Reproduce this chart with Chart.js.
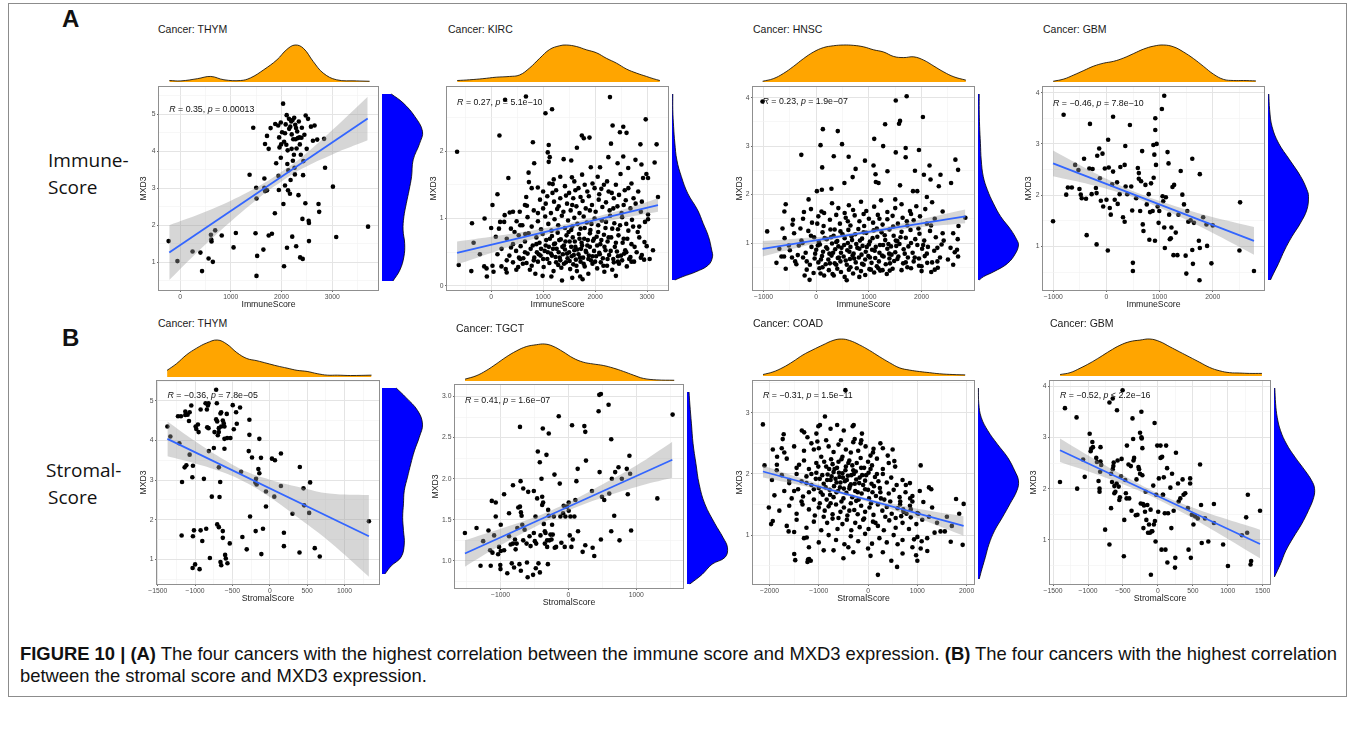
<!DOCTYPE html>
<html>
<head>
<meta charset="utf-8">
<title>MXD3 expression vs immune / stromal score</title>
<script src="https://cdn.jsdelivr.net/npm/chart.js@4/dist/chart.umd.min.js"></script>
<style>
  html, body { margin: 0; background: #fff; }
  #fig { position: relative; width: 1355px; height: 744px; overflow: hidden; font-family: "Liberation Sans", Arial, sans-serif; color: #111; }
  #frame { position: absolute; left: 8px; top: 3px; width: 1339px; height: 694px; border: 1px solid #8c8c8c; box-sizing: border-box; }
  canvas { position: absolute; }
  .lbl { position: absolute; white-space: nowrap; line-height: 1; transform: translateY(-50%); }
  .ttl { font-size: 10.5px; color: #1a1a1a; }
  .big { font-weight: bold; font-size: 24px; }
  .side { font-family: "Open Sans", "Noto Sans", sans-serif; font-size: 19px; }
  .cap { font-size: 16px; color: #111; }
</style>
</head>
<body>
<div id="fig">
  <div id="frame"></div>
  <div class="lbl big" style="left:62px;top:19px">A</div>
  <div class="lbl side" style="left:48px;top:160px">Immune-</div>
  <div class="lbl side" style="left:48px;top:187px">Score</div>
  <div class="lbl big" style="left:62px;top:338px">B</div>
  <div class="lbl side" style="left:46px;top:470px">Stromal-</div>
  <div class="lbl side" style="left:48px;top:497px">Score</div>
  <div id="cap1" class="lbl cap" style="left:20px;top:654px"><b>FIGURE 10 | (A)</b> The four cancers with the highest correlation between the immune score and MXD3 expression. <b>(B)</b> The four cancers with the highest correlation</div>
  <div id="cap2" class="lbl cap" style="left:20px;top:676px">between the stromal score and MXD3 expression.</div>
</div>
<script>
// ---------- THYM / ImmuneScore ----------
const thymImmune = [[-226,1.57],[-52,1.03],[246,1.29],[401,1.26],[433,0.76],[562,1.10],[646,1.01],[608,1.74],[614,1.61],[620,1.56],[692,1.86],[821,1.72],[1054,1.40],[1099,1.79],[1370,3.36],[1442,4.63],[1487,1.78],[1500,3.01],[1506,2.72],[1519,1.17],[1506,0.63],[1642,1.34],[1661,3.01],[1661,3.26],[1674,2.92],[1713,2.94],[1674,4.19],[1713,4.41],[1746,4.06],[1784,4.62],[1746,1.72],[1810,1.77],[1868,2.32],[1875,4.73],[1894,3.67],[1933,4.69],[1939,3.33],[1946,2.95],[1952,4.37],[1959,4.10],[1985,4.77],[1985,3.82],[1991,4.18],[2010,4.51],[2030,5.28],[2036,2.57],[2049,0.89],[2068,4.48],[2068,3.07],[2081,4.72],[2094,4.17],[2101,4.97],[2107,1.39],[2114,3.65],[2127,2.94],[2133,3.48],[2146,4.87],[2165,2.85],[2172,4.66],[2178,3.22],[2191,4.80],[2198,4.06],[2210,1.69],[2217,4.84],[2223,3.74],[2230,4.32],[2243,3.90],[2249,4.90],[2256,3.55],[2262,3.37],[2269,4.71],[2275,4.32],[2288,1.43],[2295,4.07],[2308,4.53],[2321,4.35],[2333,2.81],[2340,4.80],[2353,4.37],[2366,1.13],[2379,3.90],[2392,4.36],[2411,2.17],[2417,1.09],[2424,3.35],[2430,3.73],[2450,4.44],[2469,2.59],[2475,4.96],[2495,4.06],[2521,4.87],[2534,2.12],[2540,2.06],[2540,1.57],[2579,4.66],[2618,4.28],[2650,4.69],[2702,4.31],[2728,2.57],[2741,2.36],[2838,4.33],[2857,3.55],[3012,3.04],[3077,1.68],[3704,1.96],[2150,4.60],[2285,4.62],[2360,4.18],[2200,4.45],[2050,4.25],[2400,4.63],[2120,4.02]];
const thymImmuneFit = [[-213,1.26],[3697,4.88]];
const thymImmuneBandX = [-213,400,1000,1600,2000,2400,3000,3697];
const thymImmuneBandLo = [0.52,1.35,2.10,2.79,3.18,3.52,3.91,4.29];
const thymImmuneBandHi = [2.00,2.31,2.66,3.09,3.44,3.84,4.57,5.47];
const thymImmuneTopX = [-213,13,336,595,853,1176,1370,1629,1888,2081,2243,2405,2598,2792,3051,3439,3697];
const thymImmuneTopD = [0.04,0.03,0.09,0.15,0.06,0.04,0.11,0.33,0.60,0.88,1.00,0.91,0.55,0.24,0.06,0.03,0.02];
const thymImmuneSideY = [5.28,5.06,4.72,4.35,4.05,3.64,3.22,2.89,2.55,2.22,1.89,1.55,1.22,0.89,0.62];
const thymImmuneSideD = [0.23,0.52,0.81,1.00,0.93,0.77,0.73,0.67,0.60,0.54,0.52,0.56,0.54,0.44,0.27];

// ---------- KIRC / ImmuneScore ----------
const kircImmune = [[-656,1.99],[-624,0.31],[-369,0.93],[-382,0.22],[-338,0.64],[-217,0.47],[-127,1.00],[-134,0.29],[-89,0.26],[-83,0.14],[0,0.86],[25,1.20],[25,0.30],[45,0.21],[121,1.36],[121,0.47],[89,0.73],[159,2.23],[172,0.95],[198,0.29],[280,0.25],[268,2.76],[299,0.20],[331,1.60],[357,1.09],[382,0.57],[490,0.96],[484,0.24],[535,0.42],[567,0.59],[618,0.41],[656,0.77],[669,2.81],[675,1.32],[688,1.19],[720,1.68],[726,1.54],[745,0.24],[803,2.13],[828,1.82],[898,1.46],[1045,2.56],[1108,2.09],[1089,1.98],[1108,1.84],[1127,1.91],[1172,2.62],[1185,1.51],[1204,1.58],[1159,0.14],[1363,0.08],[1395,1.88],[1541,1.86],[1554,1.61],[1650,2.05],[1713,0.14],[1745,2.23],[1783,2.19],[1892,2.20],[1917,1.76],[2095,1.76],[2178,0.21],[2255,1.91],[2286,2.80],[2337,2.38],[2306,2.11],[2433,1.82],[2478,2.28],[2542,2.36],[2542,1.92],[2605,2.27],[2637,1.75],[2777,1.87],[2732,0.88],[2872,2.10],[2892,1.80],[2974,2.47],[2923,1.60],[2987,1.66],[3019,1.60],[3019,1.06],[3019,0.99],[2993,0.59],[3114,0.53],[3184,2.10],[3146,1.83],[3210,1.32],[2943,0.39],[2656,0.40],[2560,0.48],[2439,0.36],
  [420,0.35],[610,0.33],[780,0.30],[900,0.36],[1010,0.28],[1120,0.34],[1200,0.22],[1290,0.31],[1350,0.27],[1440,0.35],[1520,0.25],[1580,0.32],[1650,0.22],[1720,0.36],[1800,0.29],[1870,0.18],[1950,0.33],[2040,0.26],[2110,0.35],[2230,0.30],[2330,0.24],[2460,0.33],[2610,0.29],[2750,0.36],[850,0.18],[1560,0.12],[1760,0.10],[990,0.15],[2400,0.15],
  [350,0.45],[480,0.52],[560,0.40],[700,0.48],[760,0.55],[830,0.42],[880,0.50],[950,0.45],[1030,0.52],[1080,0.40],[1150,0.48],[1190,0.55],[1240,0.43],[1300,0.50],[1330,0.38],[1380,0.47],[1420,0.54],[1470,0.41],[1500,0.50],[1550,0.44],[1600,0.53],[1630,0.39],[1680,0.47],[1730,0.55],[1770,0.42],[1830,0.50],[1880,0.45],[1920,0.38],[1980,0.52],[2020,0.44],[2080,0.49],[2150,0.41],[2200,0.53],[2270,0.46],[2350,0.40],[2420,0.51],[2500,0.45],[2580,0.53],[2680,0.43],[2800,0.50],[2900,0.46],[3050,0.40],
  [300,0.70],[420,0.62],[530,0.75],[650,0.66],[720,0.78],[800,0.60],[870,0.72],[930,0.64],[990,0.77],[1060,0.68],[1110,0.58],[1170,0.74],[1230,0.63],[1280,0.79],[1340,0.69],[1400,0.60],[1450,0.75],[1510,0.66],[1570,0.72],[1620,0.58],[1690,0.77],[1740,0.64],[1790,0.70],[1850,0.60],[1900,0.78],[1960,0.67],[2030,0.73],[2100,0.62],[2170,0.76],[2240,0.66],[2310,0.72],[2380,0.58],[2450,0.75],[2530,0.64],[2620,0.70],[2700,0.62],[2850,0.72],
  [250,0.95],[380,0.85],[560,0.90],[700,1.02],[780,0.88],[900,0.96],[960,0.84],[1040,1.03],[1100,0.92],[1160,0.82],[1220,0.99],[1290,0.90],[1360,1.04],[1420,0.86],[1480,0.97],[1540,0.83],[1600,1.01],[1660,0.92],[1720,0.85],[1780,1.03],[1840,0.94],[1910,0.83],[1990,1.00],[2060,0.90],[2130,0.97],[2200,0.86],[2290,1.04],[2370,0.93],[2440,0.84],[2520,1.02],[2600,0.92],[2710,0.98],[2850,0.88],[2960,0.95],
  [420,1.10],[650,1.20],[820,1.12],[940,1.28],[1000,1.15],[1080,1.33],[1150,1.08],[1210,1.25],[1270,1.14],[1330,1.30],[1390,1.10],[1460,1.22],[1530,1.12],[1580,1.30],[1640,1.18],[1700,1.08],[1760,1.26],[1820,1.15],[1880,1.33],[1940,1.20],[2010,1.10],[2070,1.28],[2140,1.17],[2210,1.24],[2280,1.12],[2360,1.30],[2430,1.18],[2510,1.08],[2590,1.27],[2680,1.15],[2780,1.22],[2880,1.10],
  [780,1.45],[1000,1.40],[1120,1.52],[1250,1.42],[1330,1.62],[1420,1.48],[1500,1.38],[1600,1.55],[1680,1.45],[1750,1.65],[1850,1.40],[1950,1.52],[2050,1.62],[2120,1.44],[2230,1.55],[2320,1.38],[2400,1.50],[2490,1.66],[2570,1.42],[2700,1.52],[2830,1.40],
  [820,0.38],[870,0.62],[915,0.47],[960,0.55],[1000,0.40],[1050,0.60],[1090,0.50],[1130,0.70],[1170,0.45],[1210,0.62],[1250,0.35],[1260,0.55],[1310,0.68],[1320,0.42],[1370,0.58],[1400,0.33],[1430,0.66],[1460,0.48],[1490,0.80],[1510,0.37],[1540,0.58],[1560,0.88],[1590,0.46],[1610,0.66],[1640,0.30],[1660,0.54],[1700,0.70],[1710,0.42],[1750,0.60],[1780,0.33],[1800,0.86],[1820,0.52],[1860,0.68],[1870,0.40],[1900,0.58],[1930,0.92],[1950,0.44],[1980,0.70],[2000,0.36],[2040,0.60],[2060,0.80],[2090,0.47],[2120,0.68],[2160,0.30],[2180,0.58],[2210,0.95],[2240,0.40],[2260,0.72],[2300,0.52],[2330,0.85],[2360,0.35],[2400,0.64],[2440,0.44],[2480,0.90],[2520,0.38],[2550,0.70],[2600,0.50],[2640,0.82],[2700,0.36],[2760,0.58],[2820,0.80],[2880,0.42],[2950,0.65],
  [900,1.08],[1050,1.22],[1180,1.38],[1300,1.18],[1440,1.34],[1560,1.20],[1620,1.42],[1720,1.32],[1800,1.50],[1900,1.12],[1990,1.45],[2080,1.36],[2170,1.50],[2260,1.40],[2350,1.15],[2460,1.35],[2550,1.20],[2640,1.45],[2740,1.30],[2900,1.25],
  [200,0.55],[300,0.38],[450,0.80],[520,0.28],[600,0.90],[680,0.34],[150,0.85],[260,1.05],[550,1.10],[650,0.50]];
const kircImmuneFit = [[-656,0.49],[3210,1.20]];
const kircImmuneBandX = [-656,0,700,1400,2100,2700,3210];
const kircImmuneBandLo = [0.32,0.49,0.67,0.83,0.94,1.03,1.10];
const kircImmuneBandHi = [0.66,0.73,0.81,0.91,1.04,1.17,1.30];
const kircImmuneTopX = [-656,-420,-166,89,344,535,726,917,1108,1299,1427,1618,1809,2000,2191,2382,2573,2764,2955,3083,3210];
const kircImmuneTopD = [0.04,0.06,0.09,0.13,0.15,0.19,0.38,0.64,0.88,0.98,1.00,0.96,0.87,0.79,0.64,0.51,0.35,0.24,0.15,0.09,0.04];
const kircImmuneSideY = [2.81,2.58,2.33,2.09,1.84,1.60,1.35,1.11,0.91,0.72,0.52,0.42,0.30,0.20,0.13,0.08];
const kircImmuneSideD = [0.02,0.02,0.04,0.07,0.12,0.23,0.39,0.63,0.77,0.90,0.98,1.00,0.90,0.59,0.27,0.07];

// ---------- HNSC / ImmuneScore ----------
const hnscImmune = [[-931,1.24],[-755,0.59],[-660,0.72],[-610,0.72],[-579,1.80],[-604,1.65],[-579,0.47],[-440,1.48],[-283,2.82],[-233,1.64],[-145,1.90],[-126,0.24],[13,2.07],[82,3.02],[126,3.35],[113,2.56],[107,2.10],[82,0.37],[333,2.79],[289,2.12],[409,3.31],[490,3.04],[535,2.24],[616,2.78],[692,2.36],[748,2.53],[579,0.23],[925,2.70],[1038,0.45],[1088,2.60],[1101,3.15],[1126,2.42],[1132,2.26],[1183,2.24],[1271,3.00],[1308,3.45],[1214,0.43],[1352,2.48],[1396,0.43],[1510,2.87],[1510,3.94],[1591,2.19],[1591,3.52],[1572,3.46],[1698,2.96],[1717,4.03],[1698,2.77],[1837,2.07],[1874,2.49],[1918,2.07],[1950,2.92],[2025,3.60],[2044,2.41],[2151,2.60],[2170,2.31],[2183,0.40],[2327,2.17],[2359,2.41],[2560,2.24],[2642,2.72],[2693,2.51],[2686,1.08],[2673,0.86],[2629,0.81],[2693,0.72],[2831,1.52],[2308,0.49],[2107,0.59],[1950,0.53],[1730,0.50],[1541,0.67],[1384,0.78],[1510,1.05],[818,0.30],[333,0.33],[-220,0.33],[-377,0.56],[-1019,3.92],
  [-180,0.45],[-50,0.38],[60,0.48],[150,0.33],[240,0.44],[310,0.36],[400,0.47],[470,0.40],[540,0.30],[620,0.45],[700,0.37],[770,0.48],[850,0.42],[930,0.34],[1010,0.46],[1100,0.39],[1180,0.48],[1260,0.44],[1340,0.36],[1450,0.47],[1620,0.44],[1800,0.48],[2000,0.42],[2250,0.45],
  [-400,0.62],[-250,0.70],[-120,0.55],[-30,0.68],[40,0.60],[110,0.73],[180,0.56],[230,0.66],[290,0.74],[350,0.58],[410,0.69],[460,0.62],[520,0.72],[580,0.55],[640,0.67],[690,0.74],[750,0.60],[810,0.70],[870,0.57],[930,0.66],[990,0.73],[1050,0.59],[1120,0.69],[1190,0.62],[1250,0.74],[1320,0.56],[1390,0.68],[1480,0.63],[1560,0.72],[1650,0.58],[1740,0.70],[1850,0.62],[1950,0.68],[2060,0.73],[2200,0.60],[2350,0.70],[2500,0.66],
  [-500,0.85],[-330,0.95],[-200,0.80],[-90,0.92],[0,0.86],[70,0.97],[130,0.82],[190,0.91],[250,0.78],[300,0.99],[360,0.87],[420,0.93],[470,0.80],[530,0.96],[590,0.85],[650,0.92],[710,0.78],[760,0.98],[820,0.88],[880,0.94],[940,0.82],[1000,0.97],[1060,0.86],[1130,0.92],[1200,0.80],[1270,0.96],[1350,0.88],[1420,0.93],[1500,0.81],[1580,0.98],[1660,0.87],[1750,0.93],[1830,0.80],[1920,0.96],[2010,0.88],[2120,0.92],[2240,0.84],[2380,0.97],[2550,0.90],
  [-600,1.10],[-420,1.20],[-280,1.05],[-150,1.25],[-40,1.12],[50,1.02],[120,1.22],[200,1.08],[270,1.28],[330,1.15],[400,1.04],[460,1.24],[540,1.10],[610,1.27],[680,1.06],[740,1.18],[800,1.29],[870,1.09],[950,1.21],[1020,1.03],[1090,1.26],[1160,1.13],[1240,1.22],[1310,1.06],[1390,1.28],[1470,1.15],[1540,1.04],[1620,1.23],[1700,1.11],[1790,1.27],[1880,1.08],[1960,1.19],[2050,1.05],[2160,1.25],[2270,1.12],[2400,1.20],
  [-450,1.38],[-250,1.50],[-80,1.42],[40,1.55],[140,1.35],[260,1.48],[380,1.58],[450,1.40],[560,1.52],[650,1.36],[730,1.57],[820,1.45],[910,1.35],[1000,1.50],[1080,1.42],[1170,1.58],[1260,1.38],[1350,1.49],[1450,1.56],[1550,1.40],[1640,1.52],[1730,1.36],[1850,1.47],[1970,1.55],[2100,1.40],[2250,1.50],
  [-100,1.70],[100,1.65],[300,1.82],[420,1.72],[540,1.62],[620,1.78],[700,1.68],[850,1.85],[950,1.66],[1100,1.75],[1230,1.88],[1350,1.64],[1500,1.72],[1620,1.80],[1780,1.66],[1900,1.76],[2070,1.70],[2200,1.84],
  [-350,0.75],[-260,1.00],[-180,0.62],[-100,1.15],[-20,0.78],[30,0.95],[90,0.66],[160,1.10],[210,0.88],[260,0.58],[280,1.12],[320,0.80],[380,1.02],[430,0.70],[480,0.90],[500,1.18],[560,0.64],[600,1.00],[630,0.82],[670,1.14],[720,0.68],[780,0.90],[830,1.05],[860,0.76],[900,1.22],[960,0.92],[1020,0.70],[1070,1.10],[1110,0.84],[1150,1.30],[1210,0.96],[1280,0.72],[1300,1.16],[1370,0.98],[1430,0.76],[1460,1.34],[1520,0.94],[1600,1.12],[1680,0.78],[1720,1.45],[1800,1.00],[1870,0.70],[1940,1.30],[2030,0.96],[2100,0.78],[2180,1.36],[2300,0.90],[2420,1.05],[2600,1.20],[2700,1.35],
  [-520,0.95],[-640,1.30],[-700,0.88],[-460,0.70],[-300,1.30],[20,1.40],[150,1.62],[350,1.28],[600,1.45],[900,1.60],[1200,1.50],[1500,1.90],[1800,1.60],[2100,1.95],[2400,1.65],
  [120,0.50],[380,0.55],[650,0.50],[900,0.55],[1150,0.52],[1400,0.58],[1700,0.60],[2000,0.52],[2300,0.62],[2600,0.55]];
const hnscImmuneFit = [[-1019,0.88],[2831,1.55]];
const hnscImmuneBandX = [-1019,-400,200,800,1400,2000,2831];
const hnscImmuneBandLo = [0.72,0.89,1.04,1.16,1.25,1.33,1.41];
const hnscImmuneBandHi = [1.04,1.09,1.14,1.24,1.35,1.49,1.69];
const hnscImmuneTopX = [-1019,-818,-629,-440,-252,-63,126,315,503,692,881,1069,1258,1447,1635,1824,2013,2202,2390,2579,2805];
const hnscImmuneTopD = [0.02,0.09,0.23,0.42,0.63,0.81,0.93,0.98,1.00,0.99,0.95,0.87,0.81,0.69,0.66,0.68,0.59,0.43,0.27,0.14,0.05];
const hnscImmuneSideY = [4.03,3.71,3.37,3.02,2.68,2.34,2.07,1.79,1.52,1.25,1.04,0.94,0.77,0.56,0.39,0.29,0.22];
const hnscImmuneSideD = [0.03,0.03,0.04,0.06,0.08,0.13,0.23,0.38,0.56,0.81,0.96,1.00,0.93,0.73,0.39,0.14,0.03];

// ---------- GBM / ImmuneScore ----------
const gbmImmune = [[-1006,1.49],[-807,3.57],[-758,2.01],[-727,2.15],[-652,2.15],[-590,2.59],[-528,2.49],[-509,2.12],[-484,2.01],[-466,1.94],[-422,2.71],[-385,1.93],[-373,1.22],[-323,2.52],[-311,3.39],[-279,2.02],[-261,2.51],[-199,2.14],[-186,2.04],[-186,1.04],[-174,2.77],[-137,2.91],[-124,2.33],[-106,1.89],[-75,2.81],[-62,1.78],[-31,2.52],[0,1.91],[31,3.08],[25,0.92],[43,2.54],[62,1.75],[81,1.62],[106,2.21],[124,3.53],[124,2.46],[155,1.91],[199,2.25],[211,1.83],[248,2.02],[261,2.55],[311,1.57],[342,2.59],[354,2.96],[342,1.48],[360,2.17],[391,2.02],[441,3.37],[466,2.17],[484,1.70],[497,0.68],[497,0.52],[559,1.94],[590,2.53],[609,2.43],[609,2.32],[634,1.69],[652,2.27],[671,2.86],[683,1.43],[696,1.30],[733,2.20],[758,1.82],[795,2.02],[807,1.13],[820,1.67],[839,2.23],[869,1.69],[882,2.98],[888,2.34],[901,2.79],[913,1.11],[919,3.27],[919,3.50],[944,3.00],[932,2.59],[963,1.78],[981,1.46],[994,1.69],[1043,3.68],[1056,1.98],[1068,1.88],[1087,1.37],[1099,0.97],[1118,1.96],[1149,2.84],[1168,2.62],[1180,1.62],[1192,1.14],[1211,1.16],[1223,1.37],[1242,2.16],[1261,0.83],[1273,2.20],[1304,1.27],[1335,0.83],[1354,1.62],[1397,2.47],[1428,2.01],[1459,1.82],[1490,0.82],[1503,0.47],[1521,1.69],[1540,1.48],[1584,1.51],[1615,0.93],[1627,0.66],[1646,1.46],[1739,1.11],[1751,0.34],[1757,2.41],[1757,0.97],[1820,1.57],[1882,1.43],[1894,1.01],[1975,0.67],[2000,1.41],[1615,2.71],[2515,1.86],[2503,0.92],[2776,0.52],[1087,3.94]];
const gbmImmuneFit = [[-1006,2.62],[2776,1.11]];
const gbmImmuneBandX = [-1006,-400,200,700,1200,1800,2776];
const gbmImmuneBandLo = [2.37,2.23,2.06,1.88,1.66,1.37,0.84];
const gbmImmuneBandHi = [2.87,2.53,2.22,2.00,1.82,1.63,1.38];
const gbmImmuneTopX = [-1006,-807,-621,-435,-248,-62,124,311,497,683,869,1056,1242,1428,1615,1801,1987,2174,2360,2546,2776];
const gbmImmuneTopD = [0.02,0.08,0.19,0.31,0.43,0.51,0.56,0.65,0.77,0.89,0.97,1.00,0.95,0.81,0.63,0.42,0.21,0.07,0.04,0.04,0.03];
const gbmImmuneSideY = [3.94,3.64,3.31,2.99,2.67,2.34,2.09,1.96,1.70,1.44,1.18,0.92,0.66,0.47,0.34];
const gbmImmuneSideD = [0.02,0.04,0.10,0.26,0.53,0.81,0.96,1.00,0.96,0.80,0.59,0.41,0.26,0.14,0.06];

// ---------- THYM / StromalScore ----------
const thymStromal = [[-1371,4.35],[-1331,4.10],[-1211,3.93],[-1175,2.95],[-1229,4.61],[-1189,4.61],[-1131,4.73],[-1131,4.64],[-1140,3.32],[-1117,3.37],[-1100,4.65],[-1082,4.49],[-1073,4.71],[-1051,4.88],[-1073,3.64],[-1029,3.36],[-1037,3.07],[-993,4.35],[-984,4.29],[-962,4.40],[-953,4.21],[-926,4.78],[-882,3.03],[-860,4.94],[-842,4.78],[-838,4.33],[-820,4.31],[-816,3.73],[-829,4.88],[-820,4.94],[-776,2.58],[-749,3.81],[-740,4.21],[-718,5.28],[-709,4.94],[-718,4.53],[-704,4.48],[-696,4.13],[-682,4.21],[-682,4.31],[-682,3.32],[-673,2.57],[-664,2.95],[-660,4.68],[-651,4.71],[-651,4.35],[-629,4.50],[-616,4.43],[-607,4.35],[-607,4.04],[-607,3.79],[-576,4.67],[-571,4.06],[-527,4.06],[-496,4.89],[-482,4.28],[-451,4.71],[-442,4.42],[-398,4.83],[-384,3.21],[-282,3.73],[-273,4.52],[-273,4.14],[-238,3.57],[-193,2.94],[-184,3.03],[-176,2.89],[-153,3.28],[-140,3.17],[-140,4.04],[-118,3.56],[-51,2.71],[-51,2.33],[29,3.54],[69,3.50],[149,3.67],[60,2.58],[149,2.85],[304,2.15],[402,3.33],[451,2.79],[460,2.36],[527,2.17],[540,2.94],[1327,1.96],[-264,2.08],
  [-1180,1.60],[-1029,1.58],[-1015,1.73],[-926,1.73],[-904,1.46],[-851,1.77],[-802,1.03],[-704,1.88],[-682,1.81],[-629,1.71],[-629,1.54],[-536,1.40],[-598,1.11],[-589,1.02],[-567,0.90],[-367,1.56],[-309,1.25],[-189,1.71],[-91,1.77],[-113,1.13],[189,1.67],[189,1.33],[398,1.17],[602,1.28],[669,1.07],[-1033,0.78],[-940,0.75],[-1000,0.87],[-650,0.85],[-660,0.93]];
const thymStromalFit = [[-1371,4.04],[1327,1.58]];
const thymStromalBandX = [-1371,-1000,-600,-300,0,400,800,1327];
const thymStromalBandLo = [3.60,3.42,3.18,2.92,2.57,2.02,1.44,0.56];
const thymStromalBandHi = [4.48,3.98,3.50,3.20,3.01,2.82,2.66,2.62];
const thymStromalTopX = [-1376,-1251,-1118,-984,-851,-709,-584,-451,-318,-184,-51,82,216,349,482,616,749,882,1060,1336];
const thymStromalTopD = [0.18,0.36,0.60,0.78,0.92,1.00,0.89,0.66,0.50,0.44,0.37,0.30,0.24,0.18,0.15,0.09,0.05,0.05,0.04,0.05];
const thymStromalSideY = [5.28,5.05,4.73,4.40,4.08,3.75,3.43,3.11,2.78,2.46,2.13,1.81,1.48,1.16,0.95,0.75];
const thymStromalSideD = [0.35,0.59,0.88,1.00,0.92,0.80,0.71,0.63,0.55,0.53,0.51,0.53,0.55,0.47,0.23,0.07];

// ---------- TGCT / StromalScore ----------
const tgctStromal = [[-1524,1.34],[-1353,1.40],[-1255,1.24],[-1177,1.37],[-1153,1.13],[-1118,1.10],[-1094,1.31],[-1128,1.73],[-1070,1.71],[-1070,1.54],[-1035,1.08],[-996,1.44],[-996,1.12],[-1021,1.17],[-947,1.81],[-947,1.13],[-874,1.58],[-874,1.30],[-850,1.20],[-816,1.92],[-816,1.21],[-786,1.26],[-777,1.14],[-762,1.21],[-752,1.40],[-738,1.65],[-713,2.63],[-704,1.97],[-713,1.66],[-699,1.59],[-689,1.55],[-679,1.44],[-665,1.88],[-665,1.25],[-645,1.38],[-616,1.21],[-592,1.84],[-572,1.30],[-557,1.18],[-509,1.85],[-509,1.34],[-494,1.24],[-484,1.54],[-474,1.21],[-460,1.76],[-450,2.33],[-421,2.20],[-411,1.31],[-396,2.00],[-386,1.78],[-386,1.68],[-377,2.61],[-372,1.71],[-362,1.45],[-347,1.21],[-347,1.36],[-337,1.34],[-323,2.29],[-313,1.25],[-313,1.17],[-298,1.62],[-289,2.55],[-289,1.55],[-279,1.25],[-264,1.32],[-249,1.26],[-240,1.44],[-230,1.32],[-215,1.54],[-205,2.05],[-201,1.16],[-181,1.17],[-142,2.76],[-127,1.94],[-118,1.54],[-103,1.22],[-78,1.58],[-69,1.67],[-54,1.17],[-44,1.54],[-20,1.66],[5,1.61],[5,1.71],[20,1.31],[30,1.54],[44,1.17],[54,2.65],[64,1.26],[88,1.54],[103,1.74],[118,1.97],[137,2.12],[142,1.36],[210,1.11],[235,2.64],[249,2.57],[259,2.22],[249,1.19],[347,1.85],[357,1.16],[381,1.06],[445,2.82],[455,3.02],[479,3.03],[460,2.08],[479,1.26],[494,1.78],[528,1.74],[592,2.90],[631,2.48],[602,1.82],[631,1.36],[640,2.00],[675,1.55],[689,2.08],[738,2.14],[787,2.00],[860,2.12],[875,1.81],[899,2.28],[909,2.06],[924,1.37],[753,1.25],[1310,1.76],[1535,2.78],
  [-1294,0.94],[-1144,0.94],[-1003,0.95],[-834,0.97],[-721,0.96],[-610,0.98],[-441,0.97],[-302,0.96],[-900,0.85],[-700,0.88],[-600,0.80],[-520,0.83],[-480,0.91],[-420,0.86],[-800,0.92],[-1000,0.90]];
const tgctStromalFit = [[-1524,1.09],[1531,2.23]];
const tgctStromalBandX = [-1524,-1000,-500,0,500,1000,1531];
const tgctStromalBandLo = [0.93,1.19,1.41,1.61,1.77,1.90,2.01];
const tgctStromalBandHi = [1.25,1.39,1.53,1.71,1.93,2.16,2.45];
const tgctStromalTopX = [-1524,-1362,-1216,-1069,-922,-776,-629,-483,-361,-239,-92,55,201,348,494,641,788,934,1081,1276,1531];
const tgctStromalTopD = [0.05,0.14,0.28,0.46,0.65,0.81,0.93,0.98,1.00,0.94,0.79,0.62,0.51,0.46,0.42,0.35,0.26,0.16,0.07,0.03,0.02];
const tgctStromalSideY = [3.03,2.89,2.66,2.43,2.20,1.96,1.73,1.50,1.34,1.22,1.11,1.03,0.91,0.80];
const tgctStromalSideD = [0.05,0.07,0.11,0.15,0.22,0.30,0.44,0.69,0.89,1.00,0.94,0.62,0.37,0.07];

// ---------- COAD / StromalScore ----------
const coadStromal = [[-2134,2.81],[-2101,2.14],[-2014,1.45],[-1967,1.18],[-1933,1.23],[-1933,2.40],[-1846,2.28],[-1853,2.06],[-1732,2.57],[-1752,2.42],[-1712,2.65],[-1612,1.06],[-1498,0.69],[-1478,0.59],[-1344,2.71],[-1297,2.68],[-1230,2.60],[-1244,0.96],[-1197,0.61],[-1163,0.58],[-1049,2.66],[-1029,2.53],[-976,2.80],[-875,2.94],[-761,2.74],[-1009,2.78],[-493,2.71],[-627,2.80],[-459,3.37],[-291,2.80],[-312,2.78],[-271,2.57],[-124,2.66],[-137,2.55],[499,2.40],[533,2.21],[111,2.41],[1068,2.14],[767,1.82],[854,1.60],[1122,1.54],[1236,1.78],[1283,1.75],[1558,1.06],[1786,1.59],[1940,1.51],[1350,1.04],[1471,1.06],[1678,0.89],[1920,0.84],[1001,0.97],[934,0.93],[1068,0.78],[1202,0.74],[867,1.42],[713,1.42],[1021,1.35],[673,1.31],[653,1.55],[867,1.29],[1236,1.30],[1088,0.90],
  [-1700,2.35],[-1500,2.45],[-1300,2.38],[-1150,2.50],[-1000,2.42],[-850,2.55],[-700,2.36],[-600,2.48],[-450,2.40],[-300,2.52],[-200,2.38],[-50,2.45],[100,2.35],[300,2.42],
  [-1850,2.15],[-1650,2.25],[-1450,2.10],[-1300,2.22],[-1200,2.08],[-1050,2.18],[-950,2.28],[-850,2.12],[-750,2.24],[-680,2.08],[-600,2.20],[-520,2.28],[-450,2.12],[-380,2.22],[-300,2.06],[-230,2.18],[-150,2.26],[-80,2.10],[0,2.20],[80,2.14],[180,2.25],[300,2.08],[420,2.18],[550,2.12],
  [-1950,1.90],[-1750,1.98],[-1600,1.85],[-1450,2.00],[-1350,1.88],[-1250,1.96],[-1150,1.82],[-1050,2.02],[-980,1.92],[-900,1.84],[-820,1.99],[-760,1.90],[-700,2.03],[-640,1.86],[-580,1.95],[-520,2.01],[-470,1.88],[-410,1.97],[-350,1.83],[-290,2.00],[-240,1.91],[-180,1.85],[-120,1.98],[-60,1.89],[10,2.02],[70,1.84],[140,1.95],[210,1.88],[300,2.00],[380,1.86],[470,1.94],[580,1.82],[700,1.90],[850,1.85],
  [-1900,1.65],[-1700,1.72],[-1550,1.60],[-1420,1.75],[-1320,1.63],[-1200,1.70],[-1100,1.58],[-1000,1.77],[-920,1.66],[-840,1.58],[-780,1.74],[-700,1.62],[-640,1.70],[-570,1.78],[-500,1.60],[-440,1.69],[-380,1.76],[-320,1.62],[-260,1.72],[-190,1.58],[-130,1.68],[-60,1.75],[20,1.60],[90,1.70],[160,1.64],[240,1.77],[330,1.58],[420,1.68],[520,1.74],[640,1.62],[760,1.70],[900,1.64],[1050,1.72],
  [-1800,1.40],[-1600,1.48],[-1450,1.35],[-1330,1.50],[-1200,1.42],[-1080,1.32],[-980,1.52],[-880,1.40],[-800,1.47],[-720,1.34],[-650,1.50],[-560,1.38],[-490,1.45],[-420,1.32],[-350,1.52],[-280,1.41],[-210,1.34],[-140,1.48],[-60,1.38],[30,1.45],[110,1.33],[200,1.50],[290,1.40],[380,1.46],[480,1.35],[600,1.44],[720,1.38],[850,1.48],[1000,1.36],
  [-1650,1.15],[-1450,1.25],[-1250,1.12],[-1100,1.22],[-950,1.08],[-830,1.20],[-720,1.27],[-620,1.10],[-520,1.18],[-430,1.25],[-340,1.08],[-260,1.20],[-170,1.13],[-80,1.27],[10,1.10],[100,1.22],[200,1.15],[320,1.08],[430,1.24],[560,1.12],[700,1.20],[830,1.10],[980,1.18],
  [-1300,0.95],[-1000,0.88],[-800,1.00],[-650,0.92],[-480,0.85],[-350,0.98],[-200,0.90],[-60,1.02],[80,0.86],[230,0.95],[380,0.88],[520,1.00],[700,0.92],
  [-1218,0.60],[-1230,0.56],[589,0.48],[975,0.67],[1000,0.58],[472,0.58],[50,0.66],[-300,0.72],[-700,0.75],[200,0.35],[-500,0.62],[700,0.70],
  [-1150,2.00],[-1100,1.75],[-1060,1.92],[-1010,2.12],[-960,1.70],[-930,1.98],[-890,2.20],[-860,1.78],[-830,1.90],[-790,2.08],[-770,1.66],[-740,1.96],[-720,2.16],[-690,1.80],[-660,1.92],[-630,2.10],[-610,1.72],[-590,2.02],[-560,1.86],[-540,2.24],[-510,1.94],[-490,1.76],[-460,2.06],[-430,1.90],[-400,2.18],[-370,1.80],[-340,1.98],[-320,2.14],[-270,1.84],[-250,2.04],[-210,1.70],[-170,1.94],[-140,2.10],[-100,1.82],[-40,1.98],[0,1.74],[50,2.08],[120,1.80],[180,2.00],[250,1.70],
  [-1600,1.90],[-1500,1.72],[-1400,2.15],[-1250,1.85],[-1350,1.55],[-1000,1.45],[-900,1.30],[-760,1.52],[-600,1.28],[-540,1.55],[-380,1.40],[-240,1.56],[-100,1.25],[60,1.52],[150,1.20],[260,1.60],[350,1.30],[450,1.55],[560,1.28],[650,1.50],[780,1.35],[900,1.55],[1100,1.25],[1300,1.45],[1400,1.20],[1600,1.30],[1700,1.15],[1850,1.35],
  [-1100,2.40],[-800,2.45],[-550,2.55],[-350,2.35],[-150,2.50],[50,2.30],[250,2.50],[400,2.30],
  [-1500,1.05],[-1200,0.80],[-900,0.75],[-400,0.80],[0,0.78],[300,0.72],[600,0.85],[900,0.80],[1200,0.95]];
const coadStromalFit = [[-2134,2.04],[1940,1.15]];
const coadStromalBandX = [-2134,-1400,-700,0,700,1300,1940];
const coadStromalBandLo = [1.94,1.82,1.70,1.54,1.36,1.19,0.99];
const coadStromalBandHi = [2.14,1.94,1.76,1.60,1.48,1.39,1.31];
const coadStromalTopX = [-2134,-1933,-1732,-1531,-1330,-1129,-928,-727,-559,-392,-191,10,211,412,613,814,1015,1216,1417,1685,1933];
const coadStromalTopD = [0.04,0.11,0.23,0.39,0.57,0.71,0.84,0.96,1.00,0.96,0.84,0.69,0.52,0.36,0.22,0.16,0.12,0.09,0.06,0.04,0.03];
const coadStromalSideY = [3.37,3.13,2.92,2.72,2.51,2.31,2.10,1.95,1.80,1.60,1.39,1.19,0.98,0.78,0.61,0.45];
const coadStromalSideD = [0.01,0.02,0.08,0.24,0.48,0.73,0.91,1.00,0.96,0.79,0.60,0.41,0.27,0.18,0.10,0.03];

// ---------- GBM / StromalScore ----------
const gbmStromal = [[-1401,2.13],[-1330,3.57],[-1164,3.39],[-1155,2.00],[-1070,2.57],[-1047,2.23],[-976,3.07],[-953,2.78],[-962,2.73],[-938,2.91],[-929,2.81],[-882,2.60],[-872,2.52],[-849,2.15],[-835,1.94],[-835,2.00],[-826,2.33],[-821,2.53],[-821,2.81],[-811,2.46],[-755,1.20],[-693,0.91],[-693,3.68],[-670,2.29],[-670,1.62],[-656,2.13],[-646,2.38],[-637,2.44],[-632,2.51],[-623,1.91],[-623,2.05],[-608,1.94],[-590,2.10],[-585,3.53],[-576,2.55],[-561,2.04],[-552,1.78],[-543,1.83],[-528,2.24],[-519,2.58],[-505,3.92],[-481,1.39],[-467,2.17],[-458,1.91],[-448,1.81],[-443,2.84],[-420,2.47],[-410,1.81],[-387,2.44],[-377,1.57],[-363,3.37],[-354,2.97],[-349,2.55],[-340,2.60],[-316,1.48],[-306,2.18],[-292,1.49],[-278,2.42],[-269,2.38],[-255,2.29],[-245,1.71],[-236,3.50],[-231,2.98],[-222,2.79],[-222,2.26],[-212,1.70],[-207,1.23],[-198,1.67],[-184,1.55],[-175,1.94],[-165,1.39],[-151,1.68],[-141,1.14],[-127,1.30],[-113,1.14],[-104,1.59],[-89,1.17],[-80,1.17],[-66,2.06],[-57,1.30],[-47,3.28],[-42,1.37],[-33,0.97],[-24,1.88],[-9,2.84],[5,1.55],[14,2.20],[38,2.60],[38,2.84],[52,0.81],[61,2.62],[71,1.88],[85,2.22],[99,1.52],[109,0.81],[118,2.84],[132,2.40],[146,1.52],[179,2.02],[193,1.23],[203,2.29],[226,1.57],[250,0.65],[259,2.70],[288,2.10],[297,1.75],[321,1.81],[354,2.18],[368,1.88],[392,1.91],[429,1.62],[439,0.81],[462,2.20],[462,2.10],[472,0.65],[486,1.49],[509,1.30],[533,1.46],[571,1.42],[604,2.47],[618,1.68],[628,0.94],[675,1.42],[722,0.97],[802,1.70],[802,1.33],[934,0.91],[1264,1.44],[1288,1.88],[1278,1.14],[1203,1.09],[1335,0.59],[1462,1.57],[-646,3.76],[-255,3.09],[-236,3.00],[75,1.88],
  [-487,0.68],[136,0.56],[245,0.46],[1003,0.49],[1327,0.52],[-100,0.32]];
const gbmStromalFit = [[-1401,2.75],[1462,0.92]];
const gbmStromalBandX = [-1401,-900,-400,0,400,900,1462];
const gbmStromalBandLo = [2.52,2.29,2.03,1.79,1.50,1.10,0.64];
const gbmStromalBandHi = [2.98,2.57,2.19,1.91,1.68,1.44,1.20];
const gbmStromalTopX = [-1401,-1259,-1118,-976,-835,-693,-552,-410,-269,-127,14,156,297,439,580,722,863,1005,1146,1288,1462];
const gbmStromalTopD = [0.04,0.09,0.21,0.35,0.51,0.68,0.83,0.93,0.97,1.00,0.93,0.79,0.65,0.51,0.37,0.23,0.14,0.09,0.08,0.07,0.07];
const gbmStromalSideY = [3.92,3.63,3.38,3.14,2.89,2.65,2.40,2.22,2.08,1.91,1.67,1.42,1.18,0.93,0.69,0.45];
const gbmStromalSideD = [0.02,0.04,0.08,0.16,0.31,0.52,0.77,0.93,1.00,0.98,0.85,0.68,0.48,0.29,0.16,0.01];

// ---------- axis tick labels ----------
const immuneTicksA = [0, 1000, 2000, 3000];
const immuneTicksB = [-1000, 0, 1000, 2000];
const stromalTicksThym = [-1500, -1000, -500, 0, 500, 1000];
const stromalTicksTgct = [-1000, 0, 1000];
const stromalTicksCoad = [-2000, -1000, 0, 1000, 2000];
const stromalTicksGbm = [-1500, -1000, -500, 0, 500, 1000, 1500];
const mxdTicks5 = [1, 2, 3, 4, 5];
const mxdTicks2 = [0, 1, 2];
const mxdTicks4 = [1, 2, 3, 4];
const mxdTicksHalf = [1.0, 1.5, 2.0, 2.5, 3.0];
const mxdTicks3 = [1, 2, 3];

// ---------- correlation labels ----------
const corrText = {
  thymI: [['R', 1], [' = 0.35, ', 0], ['p', 1], [' = 0.00013', 0]],
  kircI: [['R', 1], [' = 0.27, ', 0], ['p', 1], [' = 5.1e\u221210', 0]],
  hnscI: [['R', 1], [' = 0.23, ', 0], ['p', 1], [' = 1.9e\u221207', 0]],
  gbmI:  [['R', 1], [' = \u22120.46, ', 0], ['p', 1], [' = 7.8e\u221210', 0]],
  thymS: [['R', 1], [' = \u22120.36, ', 0], ['p', 1], [' = 7.8e\u221205', 0]],
  tgctS: [['R', 1], [' = 0.41, ', 0], ['p', 1], [' = 1.6e\u221207', 0]],
  coadS: [['R', 1], [' = \u22120.31, ', 0], ['p', 1], [' = 1.5e\u221211', 0]],
  gbmS:  [['R', 1], [' = \u22120.52, ', 0], ['p', 1], [' < 2.2e\u221216', 0]]
};

Chart.defaults.font.family = '"Liberation Sans", Arial, Helvetica, sans-serif';
Chart.defaults.animation = false;
Chart.defaults.responsive = false;
Chart.defaults.events = [];
Chart.defaults.plugins.legend.display = false;
Chart.defaults.plugins.tooltip.enabled = false;

const fig = document.getElementById('fig');
const xy = arr => arr.map(([x, y]) => ({x, y}));
const zip = (xs, ys) => xs.map((x, i) => ({x, y: ys[i]}));

// panel layout: box = [left, top, right, bottom] of the plotting region
const panels = [
  { title: 'Cancer: THYM', tAt: [158, 29], xTitle: 'ImmuneScore', box: [159, 85, 380, 290], axisW: 21, xr: [-415, 3900], yr: [0.25, 5.73], xT: immuneTicksA, yT: mxdTicks5,
    pts: thymImmune, fit: thymImmuneFit, bx: thymImmuneBandX, lo: thymImmuneBandLo, hi: thymImmuneBandHi, topX: thymImmuneTopX, topD: thymImmuneTopD, topBase: 82,
    sideY: thymImmuneSideY, sideD: thymImmuneSideD, side: [382, 94, 281], corr: corrText.thymI, corrY: 5.11 },
  { title: 'Cancer: KIRC', tAt: [448, 29], xTitle: 'ImmuneScore', box: [447, 85, 670, 290], axisW: 19, xr: [-850, 3403], yr: [-0.06, 2.95], xT: immuneTicksA, yT: mxdTicks2,
    pts: kircImmune, fit: kircImmuneFit, bx: kircImmuneBandX, lo: kircImmuneBandLo, hi: kircImmuneBandHi, topX: kircImmuneTopX, topD: kircImmuneTopD, topBase: 82,
    sideY: kircImmuneSideY, sideD: kircImmuneSideD, side: [672, 94, 280], corr: corrText.kircI, corrY: 2.72 },
  { title: 'Cancer: HNSC', tAt: [753, 29], xTitle: 'ImmuneScore', box: [753, 85, 976, 290], axisW: 19, xr: [-1200, 2995], yr: [0.03, 4.22], xT: immuneTicksB, yT: mxdTicks4,
    pts: hnscImmune, fit: hnscImmuneFit, bx: hnscImmuneBandX, lo: hnscImmuneBandLo, hi: hnscImmuneBandHi, topX: hnscImmuneTopX, topD: hnscImmuneTopD, topBase: 82,
    sideY: hnscImmuneSideY, sideD: hnscImmuneSideD, side: [978, 94, 280], corr: corrText.hnscI, corrY: 3.91 },
  { title: 'Cancer: GBM', tAt: [1043, 29], xTitle: 'ImmuneScore', box: [1043, 85, 1266, 290], axisW: 20, xr: [-1195, 2965], yr: [0.15, 4.11], xT: immuneTicksB, yT: mxdTicks4,
    pts: gbmImmune, fit: gbmImmuneFit, bx: gbmImmuneBandX, lo: gbmImmuneBandLo, hi: gbmImmuneBandHi, topX: gbmImmuneTopX, topD: gbmImmuneTopD, topBase: 82,
    sideY: gbmImmuneSideY, sideD: gbmImmuneSideD, side: [1268, 94, 280], corr: corrText.gbmI, corrY: 3.79 },
  { title: 'Cancer: THYM', tAt: [158, 323], xTitle: 'StromalScore', box: [157, 379, 381, 584], axisW: 19, xr: [-1510, 1462], yr: [0.375, 5.5], xT: stromalTicksThym, yT: mxdTicks5,
    pts: thymStromal, fit: thymStromalFit, bx: thymStromalBandX, lo: thymStromalBandLo, hi: thymStromalBandHi, topX: thymStromalTopX, topD: thymStromalTopD, topBase: 377,
    sideY: thymStromalSideY, sideD: thymStromalSideD, side: [382, 388, 574], corr: corrText.thymS, corrY: 5.13 },
  { title: 'Cancer: TGCT', tAt: [456, 328], xTitle: 'StromalScore', box: [455, 383, 685, 588], axisW: 25, xr: [-1670, 1688], yr: [0.67, 3.14], xT: stromalTicksTgct, yT: mxdTicksHalf, dec: 1,
    pts: tgctStromal, fit: tgctStromalFit, bx: tgctStromalBandX, lo: tgctStromalBandLo, hi: tgctStromalBandHi, topX: tgctStromalTopX, topD: tgctStromalTopD, topBase: 381,
    sideY: tgctStromalSideY, sideD: tgctStromalSideD, side: [687, 392, 584], corr: corrText.tgctS, corrY: 2.95 },
  { title: 'Cancer: COAD', tAt: [753, 323], xTitle: 'StromalScore', box: [753, 379, 976, 584], axisW: 19, xr: [-2335, 2150], yr: [0.2, 3.52], xT: stromalTicksCoad, yT: mxdTicks3,
    pts: coadStromal, fit: coadStromalFit, bx: coadStromalBandX, lo: coadStromalBandLo, hi: coadStromalBandHi, topX: coadStromalTopX, topD: coadStromalTopD, topBase: 376,
    sideY: coadStromalSideY, sideD: coadStromalSideD, side: [978, 388, 579], corr: corrText.coadS, corrY: 3.28 },
  { title: 'Cancer: GBM', tAt: [1050, 323], xTitle: 'StromalScore', box: [1050, 379, 1272, 584], axisW: 22, xr: [-1544, 1605], yr: [0.14, 4.1], xT: stromalTicksGbm, yT: mxdTicks4,
    pts: gbmStromal, fit: gbmStromalFit, bx: gbmStromalBandX, lo: gbmStromalBandLo, hi: gbmStromalBandHi, topX: gbmStromalTopX, topD: gbmStromalTopD, topBase: 376,
    sideY: gbmStromalSideY, sideD: gbmStromalSideD, side: [1274, 388, 577], corr: corrText.gbmS, corrY: 3.81 }
];

function addCanvas(left, top, w, h) {
  const c = document.createElement('canvas');
  c.width = w; c.height = h;
  c.style.left = left + 'px'; c.style.top = top + 'px';
  fig.appendChild(c);
  return c;
}

function addText(txt, left, top, cls) {
  const d = document.createElement('div');
  d.className = 'lbl ' + cls;
  d.style.left = left + 'px'; d.style.top = top + 'px';
  d.textContent = txt;
  fig.appendChild(d);
}

// linear scale limits that put value d0 at p0 px and d1 at p1 px (px counted from the scale start)
function fitRange(d0, d1, p0, p1, size) {
  const k = (d1 - d0) / (p1 - p0);
  return { min: d0 - p0 * k, max: d0 + (size - p0) * k };
}

// major ticks plus a minor gridline halfway between them
function withMinors(major, range) {
  const half = (major[1] - major[0]) / 2;
  const out = [];
  for (let v = major[0] - half; v <= range[1] + 1e-9; v += half) {
    const r = Math.round(v * 1000) / 1000;
    if (r >= range[0]) out.push(r);
  }
  return out;
}
const isMajor = (major, v) => major.some(m => Math.abs(m - v) < 1e-6);
const fmt = (v, dec) => (v < 0 ? '\u2212' : '') + (dec ? Math.abs(v).toFixed(dec) : String(Math.abs(v)));

function axisOpts(major, range, title, dec, fitFn) {
  const all = withMinors(major, range);
  const maj = ctx => ctx.tick && isMajor(major, ctx.tick.value);
  return {
    type: 'linear', bounds: 'data', min: range[0], max: range[1],
    afterBuildTicks: s => { s.ticks = all.map(v => ({value: v})); },
    afterFit: fitFn,
    border: { display: false },
    grid: {
      color: ctx => maj(ctx) ? '#E4E4E4' : '#F2F2F2',
      lineWidth: ctx => maj(ctx) ? 1 : 0.6,
      drawTicks: true, tickLength: 2, tickWidth: 0.8,
      tickColor: ctx => maj(ctx) ? '#444' : 'rgba(0,0,0,0)'
    },
    ticks: {
      autoSkip: false, maxRotation: 0, minRotation: 0, padding: 1.5,
      color: '#4d4d4d', font: { size: 6.8 },
      callback: v => isMajor(major, v) ? fmt(v, dec) : ''
    },
    title: { display: true, text: title, color: '#1a1a1a', font: { size: 8.7, lineHeight: 1.2 }, padding: 0 }
  };
}

const corrLabel = {
  id: 'corrLabel',
  afterDatasetsDraw(chart, args, opts) {
    const { ctx, scales: { x, y } } = chart;
    let px = x.getPixelForValue(opts.x);
    const py = y.getPixelForValue(opts.y);
    ctx.save();
    ctx.fillStyle = '#111';
    ctx.textBaseline = 'middle';
    opts.parts.forEach(([txt, it]) => {
      ctx.font = (it ? 'italic ' : '') + '8.8px "Liberation Sans", Arial, sans-serif';
      ctx.fillText(txt, px, py);
      px += ctx.measureText(txt).width;
    });
    ctx.restore();
  }
};

const panelBox = {
  id: 'panelBox',
  afterDraw(chart) {
    const { ctx, chartArea: a } = chart;
    ctx.save();
    ctx.strokeStyle = '#8f8f8f';
    ctx.lineWidth = 1;
    ctx.strokeRect(a.left - 0.5, a.top - 0.5, a.right - a.left + 1, a.bottom - a.top + 1);
    ctx.restore();
  }
};

function drawScatter(p) {
  const [L, T, R, B] = p.box;
  const W = p.axisW, H = 20;
  const c = addCanvas(L - W, T - 2, R + 2 - (L - W), B + H - (T - 2));
  new Chart(c, {
    type: 'scatter',
    data: {
      datasets: [
        { type: 'line', data: xy(p.fit), borderColor: '#3366FF', borderWidth: 1.8, pointRadius: 0, order: 0 },
        { type: 'line', data: zip(p.bx, p.hi), borderColor: 'rgba(0,0,0,0)', borderWidth: 0, pointRadius: 0, tension: 0.4,
          fill: '+1', backgroundColor: 'rgba(153,153,153,0.4)', order: 1 },
        { type: 'line', data: zip(p.bx, p.lo), borderColor: 'rgba(0,0,0,0)', borderWidth: 0, pointRadius: 0, tension: 0.4, fill: false, order: 1 },
        { type: 'scatter', data: xy(p.pts), pointRadius: 2.3, backgroundColor: '#000', borderWidth: 0, order: 2 }
      ]
    },
    options: {
      layout: { padding: { top: 2, right: 2, left: 0, bottom: 0 } },
      scales: {
        x: axisOpts(p.xT, p.xr, p.xTitle, 0, s => { s.height = H; s.paddingLeft = 0; s.paddingRight = 0; }),
        y: axisOpts(p.yT, p.yr, 'MXD3', p.dec || 0, s => { s.width = W; s.paddingTop = 0; s.paddingBottom = 0; })
      },
      plugins: { corrLabel: { x: p.fit[0][0], y: p.corrY, parts: p.corr } }
    },
    plugins: [corrLabel, panelBox]
  });
}

// marginal density of the score, sitting above the panel
function drawTop(p) {
  const [L, , R] = p.box;
  const h = 41;
  const c = addCanvas(L, p.topBase - h + 1, R - L, h);
  new Chart(c, {
    type: 'line',
    data: { datasets: [{ data: zip(p.topX, p.topD), fill: 'origin', backgroundColor: '#FFA500', borderColor: '#000',
      borderWidth: 0.8, pointRadius: 0, tension: 0.4, clip: false }] },
    options: {
      scales: {
        x: { type: 'linear', display: false, bounds: 'data', min: p.xr[0], max: p.xr[1] },
        y: { type: 'linear', display: false, bounds: 'data', ...fitRange(0, 1, 1, 38, h) }
      }
    }
  });
}

// marginal density of MXD3, standing to the right of the panel
function drawSide(p) {
  const [left, top, bottom] = p.side;
  const w = 46, h = bottom - top + 4;
  const c = addCanvas(left - 1, top - 2, w, h);
  const n = p.sideY.length;
  new Chart(c, {
    type: 'line',
    data: { datasets: [{ data: p.sideY.map((y, i) => ({x: p.sideD[i], y})), fill: 'origin', backgroundColor: '#0000FF',
      borderColor: '#000', borderWidth: 0.8, pointRadius: 0, tension: 0.4, clip: false }] },
    options: {
      indexAxis: 'y',
      scales: {
        x: { type: 'linear', display: false, bounds: 'data', ...fitRange(0, 1, 1, 41.5, w) },
        y: { type: 'linear', display: false, bounds: 'data', ...fitRange(p.sideY[n - 1], p.sideY[0], 2, h - 2, h) }
      }
    }
  });
}

panels.forEach(p => {
  addText(p.title, p.tAt[0], p.tAt[1], 'ttl');
  drawTop(p);
  drawScatter(p);
  drawSide(p);
});

// caption: first line spans the figure width
const cap1 = document.getElementById('cap1');
const cap2 = document.getElementById('cap2');
const capSize = 16 * 1318 / cap1.getBoundingClientRect().width;
cap1.style.fontSize = capSize + 'px';
cap2.style.fontSize = capSize + 'px';
</script>
</body>
</html>
